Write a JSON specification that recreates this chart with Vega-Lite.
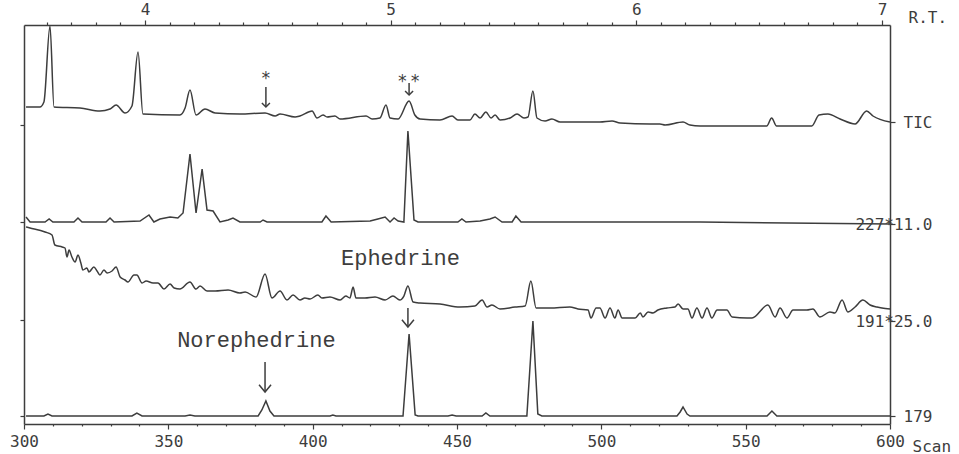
{
  "$schema": "https://vega.github.io/schema/vega-lite/v6.json",
  "width": 866,
  "height": 399,
  "autosize": {"type": "none"},
  "padding": {"left": 24, "top": 25, "right": 69, "bottom": 30},
  "background": "#ffffff",
  "config": {
    "view": {"stroke": null},
    "axis": {
      "grid": false,
      "domainColor": "#3d3d3d",
      "domainWidth": 1.5,
      "tickColor": "#3d3d3d",
      "tickWidth": 1.2,
      "labelColor": "#3d3d3d",
      "titleColor": "#3d3d3d",
      "labelFont": "DejaVu Sans Mono",
      "titleFont": "DejaVu Sans Mono",
      "labelFontSize": 16,
      "titleFontSize": 16,
      "titleFontWeight": "normal",
      "labelOverlap": false,
      "labelFlush": false
    }
  },
  "datasets": {
    "traces": [
      {"trace": "TIC", "scan": 300.7, "y": 317}, {"trace": "TIC", "scan": 305.5, "y": 317}, {"trace": "TIC", "scan": 306.9, "y": 322}, {"trace": "TIC", "scan": 309.0, "y": 398}, {"trace": "TIC", "scan": 310.4, "y": 317}, {"trace": "TIC", "scan": 319.4, "y": 316}, {"trace": "TIC", "scan": 326.3, "y": 313}, {"trace": "TIC", "scan": 329.8, "y": 315}, {"trace": "TIC", "scan": 331.9, "y": 319}, {"trace": "TIC", "scan": 335.0, "y": 311}, {"trace": "TIC", "scan": 337.4, "y": 318}, {"trace": "TIC", "scan": 339.5, "y": 372}, {"trace": "TIC", "scan": 341.2, "y": 310}, {"trace": "TIC", "scan": 354.0, "y": 309}, {"trace": "TIC", "scan": 355.8, "y": 316}, {"trace": "TIC", "scan": 357.5, "y": 334}, {"trace": "TIC", "scan": 359.6, "y": 309}, {"trace": "TIC", "scan": 362.7, "y": 315}, {"trace": "TIC", "scan": 366.2, "y": 311}, {"trace": "TIC", "scan": 374.8, "y": 310}, {"trace": "TIC", "scan": 383.5, "y": 311}, {"trace": "TIC", "scan": 387.0, "y": 308}, {"trace": "TIC", "scan": 388.7, "y": 310}, {"trace": "TIC", "scan": 393.9, "y": 307}, {"trace": "TIC", "scan": 395.6, "y": 308}, {"trace": "TIC", "scan": 399.8, "y": 313}, {"trace": "TIC", "scan": 401.5, "y": 306}, {"trace": "TIC", "scan": 403.6, "y": 309}, {"trace": "TIC", "scan": 405.0, "y": 307}, {"trace": "TIC", "scan": 407.7, "y": 308}, {"trace": "TIC", "scan": 409.5, "y": 305}, {"trace": "TIC", "scan": 418.5, "y": 308}, {"trace": "TIC", "scan": 420.6, "y": 305}, {"trace": "TIC", "scan": 423.3, "y": 306}, {"trace": "TIC", "scan": 425.4, "y": 319}, {"trace": "TIC", "scan": 426.8, "y": 306}, {"trace": "TIC", "scan": 429.6, "y": 305}, {"trace": "TIC", "scan": 433.4, "y": 323}, {"trace": "TIC", "scan": 435.4, "y": 309}, {"trace": "TIC", "scan": 437.2, "y": 305}, {"trace": "TIC", "scan": 444.1, "y": 304}, {"trace": "TIC", "scan": 448.3, "y": 308}, {"trace": "TIC", "scan": 450.3, "y": 304}, {"trace": "TIC", "scan": 454.5, "y": 304}, {"trace": "TIC", "scan": 456.2, "y": 310}, {"trace": "TIC", "scan": 458.0, "y": 306}, {"trace": "TIC", "scan": 460.0, "y": 312}, {"trace": "TIC", "scan": 461.8, "y": 306}, {"trace": "TIC", "scan": 463.2, "y": 309}, {"trace": "TIC", "scan": 464.9, "y": 304}, {"trace": "TIC", "scan": 468.4, "y": 306}, {"trace": "TIC", "scan": 470.8, "y": 310}, {"trace": "TIC", "scan": 473.2, "y": 306}, {"trace": "TIC", "scan": 474.6, "y": 307}, {"trace": "TIC", "scan": 476.3, "y": 333}, {"trace": "TIC", "scan": 477.7, "y": 306}, {"trace": "TIC", "scan": 480.5, "y": 303}, {"trace": "TIC", "scan": 482.9, "y": 305}, {"trace": "TIC", "scan": 485.7, "y": 302}, {"trace": "TIC", "scan": 499.5, "y": 302}, {"trace": "TIC", "scan": 503.7, "y": 303}, {"trace": "TIC", "scan": 506.5, "y": 301}, {"trace": "TIC", "scan": 516.9, "y": 300}, {"trace": "TIC", "scan": 520.3, "y": 300}, {"trace": "TIC", "scan": 522.1, "y": 299}, {"trace": "TIC", "scan": 528.3, "y": 302}, {"trace": "TIC", "scan": 530.7, "y": 299}, {"trace": "TIC", "scan": 534.2, "y": 298}, {"trace": "TIC", "scan": 548.0, "y": 298}, {"trace": "TIC", "scan": 557.3, "y": 298}, {"trace": "TIC", "scan": 559.0, "y": 306}, {"trace": "TIC", "scan": 560.7, "y": 298}, {"trace": "TIC", "scan": 572.9, "y": 298}, {"trace": "TIC", "scan": 575.4, "y": 309}, {"trace": "TIC", "scan": 578.5, "y": 310}, {"trace": "TIC", "scan": 582.7, "y": 305}, {"trace": "TIC", "scan": 587.9, "y": 300}, {"trace": "TIC", "scan": 591.9, "y": 313}, {"trace": "TIC", "scan": 594.1, "y": 308}, {"trace": "TIC", "scan": 600.0, "y": 302},

      {"trace": "227", "scan": 300.7, "y": 207}, {"trace": "227", "scan": 302.1, "y": 202}, {"trace": "227", "scan": 307.3, "y": 202}, {"trace": "227", "scan": 308.7, "y": 205}, {"trace": "227", "scan": 310.0, "y": 202}, {"trace": "227", "scan": 317.3, "y": 202}, {"trace": "227", "scan": 318.7, "y": 206}, {"trace": "227", "scan": 320.1, "y": 202}, {"trace": "227", "scan": 328.4, "y": 202}, {"trace": "227", "scan": 329.8, "y": 206}, {"trace": "227", "scan": 331.2, "y": 202}, {"trace": "227", "scan": 340.2, "y": 203}, {"trace": "227", "scan": 343.3, "y": 209}, {"trace": "227", "scan": 345.0, "y": 202}, {"trace": "227", "scan": 347.1, "y": 205}, {"trace": "227", "scan": 350.6, "y": 207}, {"trace": "227", "scan": 353.3, "y": 206}, {"trace": "227", "scan": 355.1, "y": 211}, {"trace": "227", "scan": 357.5, "y": 270}, {"trace": "227", "scan": 359.6, "y": 211}, {"trace": "227", "scan": 361.7, "y": 255}, {"trace": "227", "scan": 363.4, "y": 214}, {"trace": "227", "scan": 365.5, "y": 213}, {"trace": "227", "scan": 367.9, "y": 202}, {"trace": "227", "scan": 370.7, "y": 204}, {"trace": "227", "scan": 372.4, "y": 206}, {"trace": "227", "scan": 374.8, "y": 202}, {"trace": "227", "scan": 381.8, "y": 202}, {"trace": "227", "scan": 382.8, "y": 204}, {"trace": "227", "scan": 384.2, "y": 202}, {"trace": "227", "scan": 403.2, "y": 202}, {"trace": "227", "scan": 404.6, "y": 208}, {"trace": "227", "scan": 406.4, "y": 202}, {"trace": "227", "scan": 419.9, "y": 203}, {"trace": "227", "scan": 422.6, "y": 205}, {"trace": "227", "scan": 425.1, "y": 207}, {"trace": "227", "scan": 426.8, "y": 202}, {"trace": "227", "scan": 428.2, "y": 206}, {"trace": "227", "scan": 429.6, "y": 203}, {"trace": "227", "scan": 431.6, "y": 202}, {"trace": "227", "scan": 433.0, "y": 293}, {"trace": "227", "scan": 435.1, "y": 204}, {"trace": "227", "scan": 436.5, "y": 202}, {"trace": "227", "scan": 450.3, "y": 202}, {"trace": "227", "scan": 451.7, "y": 205}, {"trace": "227", "scan": 453.1, "y": 202}, {"trace": "227", "scan": 458.0, "y": 203}, {"trace": "227", "scan": 461.4, "y": 205}, {"trace": "227", "scan": 463.2, "y": 207}, {"trace": "227", "scan": 465.6, "y": 202}, {"trace": "227", "scan": 469.1, "y": 202}, {"trace": "227", "scan": 470.4, "y": 208}, {"trace": "227", "scan": 472.2, "y": 202}, {"trace": "227", "scan": 534.2, "y": 202}, {"trace": "227", "scan": 600.0, "y": 200},

      {"trace": "191", "scan": 300.7, "y": 197}, {"trace": "191", "scan": 302.1, "y": 196}, {"trace": "191", "scan": 307.3, "y": 192}, {"trace": "191", "scan": 309.7, "y": 189}, {"trace": "191", "scan": 310.7, "y": 179}, {"trace": "191", "scan": 313.2, "y": 177}, {"trace": "191", "scan": 314.2, "y": 176}, {"trace": "191", "scan": 314.9, "y": 167}, {"trace": "191", "scan": 315.6, "y": 174}, {"trace": "191", "scan": 316.6, "y": 167}, {"trace": "191", "scan": 317.7, "y": 162}, {"trace": "191", "scan": 318.7, "y": 169}, {"trace": "191", "scan": 319.7, "y": 161}, {"trace": "191", "scan": 320.4, "y": 154}, {"trace": "191", "scan": 321.8, "y": 156}, {"trace": "191", "scan": 322.5, "y": 152}, {"trace": "191", "scan": 324.2, "y": 157}, {"trace": "191", "scan": 325.3, "y": 153}, {"trace": "191", "scan": 326.3, "y": 149}, {"trace": "191", "scan": 327.7, "y": 154}, {"trace": "191", "scan": 328.8, "y": 151}, {"trace": "191", "scan": 330.5, "y": 153}, {"trace": "191", "scan": 331.9, "y": 157}, {"trace": "191", "scan": 333.3, "y": 147}, {"trace": "191", "scan": 335.0, "y": 144}, {"trace": "191", "scan": 336.0, "y": 142}, {"trace": "191", "scan": 338.1, "y": 149}, {"trace": "191", "scan": 339.1, "y": 149}, {"trace": "191", "scan": 340.9, "y": 141}, {"trace": "191", "scan": 342.3, "y": 143}, {"trace": "191", "scan": 344.7, "y": 141}, {"trace": "191", "scan": 346.4, "y": 141}, {"trace": "191", "scan": 348.5, "y": 135}, {"trace": "191", "scan": 350.6, "y": 140}, {"trace": "191", "scan": 352.0, "y": 136}, {"trace": "191", "scan": 354.0, "y": 135}, {"trace": "191", "scan": 357.5, "y": 142}, {"trace": "191", "scan": 359.6, "y": 135}, {"trace": "191", "scan": 361.0, "y": 138}, {"trace": "191", "scan": 363.4, "y": 133}, {"trace": "191", "scan": 366.2, "y": 133}, {"trace": "191", "scan": 370.7, "y": 134}, {"trace": "191", "scan": 374.8, "y": 131}, {"trace": "191", "scan": 376.6, "y": 132}, {"trace": "191", "scan": 380.4, "y": 127}, {"trace": "191", "scan": 383.5, "y": 150}, {"trace": "191", "scan": 385.9, "y": 126}, {"trace": "191", "scan": 388.7, "y": 133}, {"trace": "191", "scan": 391.1, "y": 124}, {"trace": "191", "scan": 393.2, "y": 129}, {"trace": "191", "scan": 395.6, "y": 124}, {"trace": "191", "scan": 397.3, "y": 126}, {"trace": "191", "scan": 399.1, "y": 125}, {"trace": "191", "scan": 401.8, "y": 129}, {"trace": "191", "scan": 403.2, "y": 126}, {"trace": "191", "scan": 406.0, "y": 127}, {"trace": "191", "scan": 409.5, "y": 124}, {"trace": "191", "scan": 411.5, "y": 128}, {"trace": "191", "scan": 412.9, "y": 126}, {"trace": "191", "scan": 414.0, "y": 137}, {"trace": "191", "scan": 415.0, "y": 126}, {"trace": "191", "scan": 418.1, "y": 126}, {"trace": "191", "scan": 421.6, "y": 127}, {"trace": "191", "scan": 425.1, "y": 124}, {"trace": "191", "scan": 427.8, "y": 128}, {"trace": "191", "scan": 430.2, "y": 124}, {"trace": "191", "scan": 431.6, "y": 128}, {"trace": "191", "scan": 433.0, "y": 138}, {"trace": "191", "scan": 434.8, "y": 122}, {"trace": "191", "scan": 437.2, "y": 121}, {"trace": "191", "scan": 444.1, "y": 120}, {"trace": "191", "scan": 451.0, "y": 117}, {"trace": "191", "scan": 456.2, "y": 118}, {"trace": "191", "scan": 458.7, "y": 124}, {"trace": "191", "scan": 460.4, "y": 117}, {"trace": "191", "scan": 462.1, "y": 119}, {"trace": "191", "scan": 464.9, "y": 115}, {"trace": "191", "scan": 470.1, "y": 117}, {"trace": "191", "scan": 473.6, "y": 118}, {"trace": "191", "scan": 475.6, "y": 143}, {"trace": "191", "scan": 477.4, "y": 116}, {"trace": "191", "scan": 482.2, "y": 116}, {"trace": "191", "scan": 489.1, "y": 117}, {"trace": "191", "scan": 491.9, "y": 115}, {"trace": "191", "scan": 495.4, "y": 114}, {"trace": "191", "scan": 496.4, "y": 106}, {"trace": "191", "scan": 498.2, "y": 116}, {"trace": "191", "scan": 499.5, "y": 116}, {"trace": "191", "scan": 501.3, "y": 106}, {"trace": "191", "scan": 503.0, "y": 116}, {"trace": "191", "scan": 504.7, "y": 106}, {"trace": "191", "scan": 505.8, "y": 114}, {"trace": "191", "scan": 507.2, "y": 106}, {"trace": "191", "scan": 511.7, "y": 106}, {"trace": "191", "scan": 513.5, "y": 111}, {"trace": "191", "scan": 514.4, "y": 107}, {"trace": "191", "scan": 516.2, "y": 112}, {"trace": "191", "scan": 517.9, "y": 111}, {"trace": "191", "scan": 519.6, "y": 114}, {"trace": "191", "scan": 522.7, "y": 116}, {"trace": "191", "scan": 525.5, "y": 117}, {"trace": "191", "scan": 526.6, "y": 120}, {"trace": "191", "scan": 528.3, "y": 115}, {"trace": "191", "scan": 530.0, "y": 115}, {"trace": "191", "scan": 531.4, "y": 106}, {"trace": "191", "scan": 533.1, "y": 116}, {"trace": "191", "scan": 534.9, "y": 106}, {"trace": "191", "scan": 536.6, "y": 116}, {"trace": "191", "scan": 538.3, "y": 106}, {"trace": "191", "scan": 540.1, "y": 114}, {"trace": "191", "scan": 543.5, "y": 114}, {"trace": "191", "scan": 545.3, "y": 107}, {"trace": "191", "scan": 550.5, "y": 106}, {"trace": "191", "scan": 552.2, "y": 106}, {"trace": "191", "scan": 557.7, "y": 119}, {"trace": "191", "scan": 560.2, "y": 107}, {"trace": "191", "scan": 561.9, "y": 116}, {"trace": "191", "scan": 564.3, "y": 106}, {"trace": "191", "scan": 566.4, "y": 114}, {"trace": "191", "scan": 571.2, "y": 114}, {"trace": "191", "scan": 573.3, "y": 115}, {"trace": "191", "scan": 575.7, "y": 107}, {"trace": "191", "scan": 579.2, "y": 112}, {"trace": "191", "scan": 580.9, "y": 111}, {"trace": "191", "scan": 583.4, "y": 124}, {"trace": "191", "scan": 585.4, "y": 112}, {"trace": "191", "scan": 587.9, "y": 117}, {"trace": "191", "scan": 590.6, "y": 124}, {"trace": "191", "scan": 593.1, "y": 119}, {"trace": "191", "scan": 595.5, "y": 117}, {"trace": "191", "scan": 597.2, "y": 116}, {"trace": "191", "scan": 600.0, "y": 115},

      {"trace": "179", "scan": 300.7, "y": 8}, {"trace": "179", "scan": 306.9, "y": 8}, {"trace": "179", "scan": 308.3, "y": 10}, {"trace": "179", "scan": 309.7, "y": 8}, {"trace": "179", "scan": 337.4, "y": 8}, {"trace": "179", "scan": 339.1, "y": 11}, {"trace": "179", "scan": 340.9, "y": 8}, {"trace": "179", "scan": 355.8, "y": 8}, {"trace": "179", "scan": 357.5, "y": 9}, {"trace": "179", "scan": 359.2, "y": 8}, {"trace": "179", "scan": 381.1, "y": 8}, {"trace": "179", "scan": 382.4, "y": 14}, {"trace": "179", "scan": 383.8, "y": 23}, {"trace": "179", "scan": 385.2, "y": 13}, {"trace": "179", "scan": 386.6, "y": 8}, {"trace": "179", "scan": 406.0, "y": 8}, {"trace": "179", "scan": 407.0, "y": 9}, {"trace": "179", "scan": 408.1, "y": 8}, {"trace": "179", "scan": 431.3, "y": 8}, {"trace": "179", "scan": 433.4, "y": 90}, {"trace": "179", "scan": 435.5, "y": 9}, {"trace": "179", "scan": 436.5, "y": 8}, {"trace": "179", "scan": 446.9, "y": 8}, {"trace": "179", "scan": 448.3, "y": 9}, {"trace": "179", "scan": 449.7, "y": 8}, {"trace": "179", "scan": 458.7, "y": 8}, {"trace": "179", "scan": 460.0, "y": 11}, {"trace": "179", "scan": 461.4, "y": 8}, {"trace": "179", "scan": 474.2, "y": 8}, {"trace": "179", "scan": 476.3, "y": 103}, {"trace": "179", "scan": 478.0, "y": 10}, {"trace": "179", "scan": 479.4, "y": 8}, {"trace": "179", "scan": 526.2, "y": 8}, {"trace": "179", "scan": 527.3, "y": 12}, {"trace": "179", "scan": 528.3, "y": 17}, {"trace": "179", "scan": 529.7, "y": 10}, {"trace": "179", "scan": 530.7, "y": 8}, {"trace": "179", "scan": 557.4, "y": 8}, {"trace": "179", "scan": 559.1, "y": 13}, {"trace": "179", "scan": 560.8, "y": 8}, {"trace": "179", "scan": 600.0, "y": 8}
    ],
    "arrows": [
      {"kind": "small", "scan": 383.8, "ytop": 337, "ytip": 317},
      {"kind": "small", "scan": 433.4, "ytop": 341, "ytip": 329},
      {"kind": "big", "scan": 383.5, "ytop": 62, "ytip": 32},
      {"kind": "big", "scan": 433.0, "ytop": 116, "ytip": 97}
    ],
    "stars": [
      {"scan": 383.8, "y": 350, "label": "*"},
      {"scan": 431.1, "y": 347, "label": "*"},
      {"scan": 435.5, "y": 347, "label": "*"}
    ],
    "names": [
      {"scan": 430.4, "y": 166, "label": "Ephedrine"},
      {"scan": 380.5, "y": 84, "label": "Norephedrine"}
    ],
    "rtTicks": [{"rt": 4}, {"rt": 7}],
    "rightTicks": [{"y": 302}, {"y": 200}, {"y": 103}, {"y": 8}]
  },
  "layer": [
    {
      "data": {"name": "traces"},
      "transform": [{"filter": "datum.trace === 'TIC' || datum.trace === '191'"}],
      "mark": {"type": "line", "color": "#3d3d3d", "strokeWidth": 1.5, "interpolate": "monotone"},
      "encoding": {
        "x": {
          "field": "scan", "type": "quantitative",
          "scale": {"domain": [300, 600], "nice": false, "zero": false},
          "axis": {
            "orient": "bottom",
            "values": [300, 310, 320, 330, 340, 350, 360, 370, 380, 390, 400, 410, 420, 430, 440, 450, 460, 470, 480, 490, 500, 510, 520, 530, 540, 550, 560, 570, 580, 590, 600],
            "labelExpr": "datum.value % 50 === 0 ? datum.label : ''",
            "tickSize": {"condition": {"test": "datum.value % 50 === 0", "value": 5}, "value": 2},
            "labelPadding": 4,
            "labelBaseline": "top",
            "title": "Scan",
            "titleAlign": "left",
            "titleAnchor": "start",
            "titleX": 888,
            "titleY": 22,
            "titleBaseline": "middle"
          }
        },
        "y": {
          "field": "y", "type": "quantitative",
          "scale": {"domain": [0, 399], "nice": false, "zero": false},
          "axis": {
            "orient": "left",
            "values": [299, 202, 104, 8],
            "labels": false,
            "tickSize": 4,
            "title": null
          }
        },
        "detail": {"field": "trace"}
      }
    },
    {
      "data": {"name": "traces"},
      "transform": [{"filter": "datum.trace === '227' || datum.trace === '179'"}],
      "mark": {"type": "line", "color": "#3d3d3d", "strokeWidth": 1.5, "interpolate": "linear"},
      "encoding": {
        "x": {"field": "scan", "type": "quantitative", "scale": {"domain": [300, 600], "nice": false, "zero": false}, "axis": null},
        "y": {"field": "y", "type": "quantitative", "scale": {"domain": [0, 399], "nice": false, "zero": false}, "axis": null},
        "detail": {"field": "trace"}
      }
    },
    {
      "data": {"name": "rtTicks"},
      "mark": {"type": "point", "opacity": 0},
      "encoding": {
        "x": {
          "field": "rt", "type": "quantitative",
          "scale": {"domain": [3.5075, 7.0325], "nice": false, "zero": false},
          "axis": {
            "orient": "top",
            "values": [3.6, 3.7, 3.8, 3.9, 4, 4.1, 4.2, 4.3, 4.4, 4.5, 4.6, 4.7, 4.8, 4.9, 5, 5.1, 5.2, 5.3, 5.4, 5.5, 5.6, 5.7, 5.8, 5.9, 6, 6.1, 6.2, 6.3, 6.4, 6.5, 6.6, 6.7, 6.8, 6.9, 7],
            "labelExpr": "abs(datum.value - round(datum.value)) < 0.01 ? format(datum.value, 'd') : ''",
            "tickSize": {"condition": {"test": "abs(datum.value - round(datum.value)) < 0.01", "value": 5}, "value": 3},
            "labelPadding": 3,
            "labelBaseline": "bottom",
            "title": "R.T.",
            "titleAlign": "left",
            "titleAnchor": "start",
            "titleX": 884,
            "titleY": -8,
            "titleBaseline": "middle"
          }
        }
      }
    },
    {
      "data": {"name": "rightTicks"},
      "mark": {"type": "point", "opacity": 0},
      "encoding": {
        "y": {
          "field": "y", "type": "quantitative",
          "scale": {"domain": [0, 399], "nice": false, "zero": false},
          "axis": {
            "orient": "right",
            "values": [302, 200, 103, 8],
            "labelExpr": "datum.value == 302 ? 'TIC' : datum.value == 200 ? '227*11.0' : datum.value == 103 ? '191*25.0' : '179'",
            "tickSize": 5,
            "labelPadding": 37,
            "labelAlign": "right",
            "labelBaseline": "middle",
            "title": null
          }
        }
      }
    },
    {
      "data": {"name": "arrows"},
      "mark": {"type": "rule", "color": "#3d3d3d", "strokeWidth": 1.5},
      "encoding": {
        "x": {"field": "scan", "type": "quantitative", "scale": {"domain": [300, 600], "nice": false, "zero": false}, "axis": null},
        "y": {"field": "ytop", "type": "quantitative", "scale": {"domain": [0, 399], "nice": false, "zero": false}, "axis": null},
        "y2": {"field": "ytip"}
      }
    },
    {
      "data": {"name": "arrows"},
      "transform": [{"filter": "datum.kind === 'small'"}],
      "mark": {"type": "point", "shape": "M-1,-1L0,0L1,-1", "filled": false, "stroke": "#3d3d3d", "strokeWidth": 1.5, "size": 64, "opacity": 1},
      "encoding": {
        "x": {"field": "scan", "type": "quantitative", "scale": {"domain": [300, 600], "nice": false, "zero": false}, "axis": null},
        "y": {"field": "ytip", "type": "quantitative", "scale": {"domain": [0, 399], "nice": false, "zero": false}, "axis": null}
      }
    },
    {
      "data": {"name": "arrows"},
      "transform": [{"filter": "datum.kind === 'big'"}],
      "mark": {"type": "point", "shape": "M-1,-1.2L0,0L1,-1.2", "filled": false, "stroke": "#3d3d3d", "strokeWidth": 1.5, "size": 144, "opacity": 1},
      "encoding": {
        "x": {"field": "scan", "type": "quantitative", "scale": {"domain": [300, 600], "nice": false, "zero": false}, "axis": null},
        "y": {"field": "ytip", "type": "quantitative", "scale": {"domain": [0, 399], "nice": false, "zero": false}, "axis": null}
      }
    },
    {
      "data": {"name": "stars"},
      "mark": {"type": "text", "font": "DejaVu Sans Mono", "fontSize": 17, "color": "#3d3d3d", "align": "center", "baseline": "alphabetic", "dy": 10},
      "encoding": {
        "x": {"field": "scan", "type": "quantitative", "scale": {"domain": [300, 600], "nice": false, "zero": false}, "axis": null},
        "y": {"field": "y", "type": "quantitative", "scale": {"domain": [0, 399], "nice": false, "zero": false}, "axis": null},
        "text": {"field": "label"}
      }
    },
    {
      "data": {"name": "names"},
      "mark": {"type": "text", "font": "Liberation Mono", "fontSize": 22, "color": "#3d3d3d", "align": "center", "baseline": "middle"},
      "encoding": {
        "x": {"field": "scan", "type": "quantitative", "scale": {"domain": [300, 600], "nice": false, "zero": false}, "axis": null},
        "y": {"field": "y", "type": "quantitative", "scale": {"domain": [0, 399], "nice": false, "zero": false}, "axis": null},
        "text": {"field": "label"}
      }
    }
  ],
  "resolve": {"scale": {"x": "independent"}, "axis": {"y": "independent", "x": "independent"}}
}
